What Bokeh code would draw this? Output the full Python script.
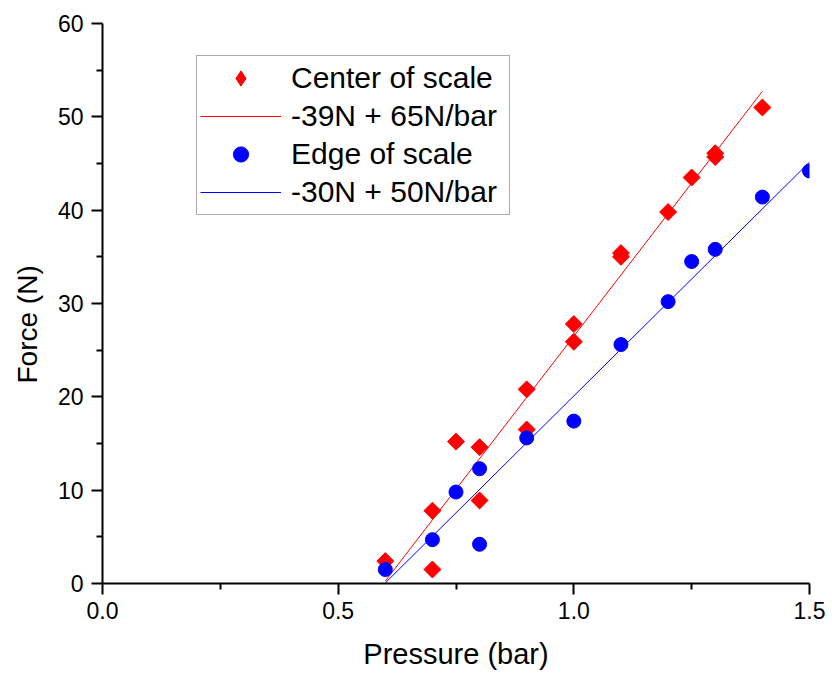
import math
from bokeh.plotting import figure
from bokeh.models import FixedTicker, Legend, LegendItem, PrintfTickFormatter, Range1d, Title
from bokeh.embed import file_html
from bokeh.resources import INLINE

# ---- data ----
center_x = [0.6, 0.7, 0.7, 0.75, 0.8, 0.8, 0.9, 0.9, 1.0, 1.0, 1.1, 1.1, 1.2, 1.25, 1.3, 1.3, 1.4]
center_y = [2.4, 7.8, 1.5, 15.2, 14.6, 8.9, 20.8, 16.5, 27.8, 25.9, 35.0, 35.4, 39.8, 43.5, 45.7, 46.1, 51.0]
edge_x = [0.6, 0.7, 0.75, 0.8, 0.8, 0.9, 1.0, 1.1, 1.2, 1.25, 1.3, 1.4, 1.5]
edge_y = [1.5, 4.7, 9.8, 12.3, 4.2, 15.6, 17.4, 25.6, 30.2, 34.5, 35.8, 41.4, 44.2]

center_fit = [-39.1, 65.6]      # intercept (N), slope (N/bar)
center_fit_x = [0.6, 1.4]
edge_fit = [-30.0, 50.1]
edge_fit_x = [0.6, 1.5]

labels = ["Center of scale", "-39N + 65N/bar", "Edge of scale", "-30N + 50N/bar"]

x_ticks = [0.0, 0.5, 1.0, 1.5]
x_minor = [0.25, 0.75, 1.25]
y_ticks = [0, 10, 20, 30, 40, 50, 60]
y_minor = [5, 15, 25, 35, 45, 55]

FONT = "Liberation Sans"
RED = "#ff0000"
BLUE = "#0000ff"

p = figure(width=831, height=676,
           x_range=Range1d(0, 1.5), y_range=Range1d(0, 60),
           output_backend="svg", toolbar_location=None,
           min_border_left=102, min_border_right=22,
           min_border_top=23, min_border_bottom=93)

p.outline_line_color = None
p.xgrid.visible = False
p.ygrid.visible = False
p.background_fill_color = "white"
p.border_fill_color = "white"

# diamond-shaped twin (hidden under the rotated squares) used for the legend glyph
r1_leg = p.scatter(center_x, center_y, marker="diamond", size=9,
                   fill_color=RED, line_color=RED)
r1 = p.scatter(center_x, center_y, marker="square", size=12, angle=math.pi / 4,
               fill_color=RED, line_color=RED)
cfy = [center_fit[0] + center_fit[1] * x for x in center_fit_x]
r2 = p.line(center_fit_x, cfy, line_color=RED, line_width=1)
r3 = p.scatter(edge_x, edge_y, marker="circle", size=14,
               fill_color=BLUE, line_color=BLUE)
efy = [edge_fit[0] + edge_fit[1] * x for x in edge_fit_x]
r4 = p.line(edge_fit_x, efy, line_color=BLUE, line_width=1)

p.xaxis.ticker = FixedTicker(ticks=x_ticks, minor_ticks=x_minor)
p.yaxis.ticker = FixedTicker(ticks=y_ticks, minor_ticks=y_minor)
p.xaxis.formatter = PrintfTickFormatter(format="%.1f")
p.yaxis.formatter = PrintfTickFormatter(format="%d")

p.xaxis.axis_label = "Pressure (bar)"

for ax in (p.xaxis, p.yaxis):
    ax.axis_line_width = 2
    ax.axis_line_color = "black"
    ax.major_tick_line_width = 2
    ax.major_tick_line_color = "black"
    ax.minor_tick_line_width = 2
    ax.minor_tick_line_color = "black"
    ax.major_tick_in = 0
    ax.major_tick_out = 11
    ax.minor_tick_in = 0
    ax.minor_tick_out = 6
    ax.major_label_text_font = FONT
    ax.major_label_text_font_size = "23px"
    ax.major_label_text_color = "black"
    ax.axis_label_text_font = FONT
    ax.axis_label_text_font_size = "29px"
    ax.axis_label_text_font_style = "normal"
    ax.axis_label_text_color = "black"

p.xaxis.axis_label_standoff = 16
p.xaxis.major_label_standoff = 7
p.yaxis.major_label_standoff = 8

ytitle = Title(text="Force (N)", align="left", vertical_align="top",
               offset=200, standoff=20,
               text_font=FONT, text_font_size="28px",
               text_font_style="normal", text_color="black")
p.add_layout(ytitle, "left")

legend = Legend(items=[LegendItem(label=labels[0], renderers=[r1_leg]),
                       LegendItem(label=labels[1], renderers=[r2]),
                       LegendItem(label=labels[2], renderers=[r3]),
                       LegendItem(label=labels[3], renderers=[r4])],
                location=(94, 368))
legend.label_text_font = FONT
legend.label_text_font_size = "30px"
legend.label_text_color = "black"
legend.label_height = 38
legend.label_width = 215
legend.glyph_height = 38
legend.glyph_width = 81
legend.label_standoff = 10
legend.spacing = 0
legend.padding = 3
legend.margin = 0
legend.border_line_color = "#555555"
legend.border_line_width = 1
legend.background_fill_color = "white"
legend.background_fill_alpha = 1.0
p.add_layout(legend)

open("out.html", "w").write(file_html(p, INLINE))
